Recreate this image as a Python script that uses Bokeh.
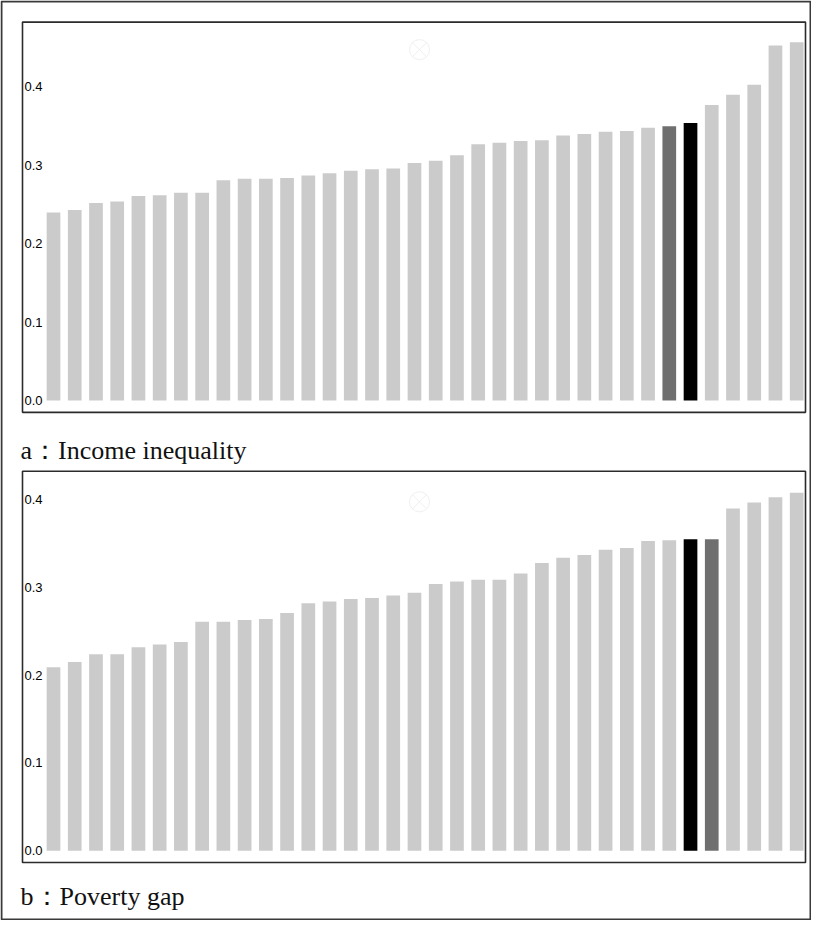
from bokeh.plotting import figure
from bokeh.models import Range1d
from bokeh.core.properties import value
from bokeh.embed import file_html
from bokeh.resources import INLINE

# ---------------- data ----------------
income_inequality = [0.240, 0.243, 0.252, 0.254, 0.261, 0.262, 0.265, 0.265, 0.281, 0.283,
                     0.283, 0.284, 0.287, 0.290, 0.293, 0.295, 0.296, 0.303, 0.306, 0.313,
                     0.327, 0.329, 0.331, 0.332, 0.338, 0.340, 0.343, 0.344, 0.348, 0.350,
                     0.354, 0.377, 0.390, 0.403, 0.453, 0.457]
poverty_gap = [0.209, 0.215, 0.224, 0.224, 0.232, 0.235, 0.238, 0.261, 0.261, 0.263,
               0.264, 0.271, 0.282, 0.284, 0.287, 0.288, 0.291, 0.294, 0.304, 0.307,
               0.309, 0.309, 0.316, 0.328, 0.334, 0.337, 0.343, 0.345, 0.353, 0.354,
               0.355, 0.355, 0.390, 0.397, 0.403, 0.408]
dark_a, black_a = 29, 30
black_b, dark_b = 30, 31
tick_values = [0.0, 0.1, 0.2, 0.3, 0.4]
tick_labels = ["0.0", "0.1", "0.2", "0.3", "0.4"]
caption_a = "a\uff1aIncome inequality"
caption_b = "b\uff1aPoverty gap"

# ---------------- layout (canvas pixels) ----------------
W, H = 811, 920
SY = H / 936.0                    # vertical compression vs. original 936px page
X0, PITCH = 53.0, 21.234          # centre of first bar, bar pitch
ZERO_A, SCALE_A = 407.0 * SY, 797.5 * SY
ZERO_B, SCALE_B = 865.0 * SY, 892.5 * SY
LIGHT, DARK, BLACK = "#cbcbcb", "#6f6f6f", "#000000"

p = figure(width=W, height=H, output_backend="svg", toolbar_location=None,
           x_range=Range1d(0, W), y_range=Range1d(H, 0),
           x_axis_location=None, y_axis_location=None, min_border=0)
p.grid.visible = False
p.outline_line_color = None
p.background_fill_color = "white"
p.border_fill_color = "white"

p.extra_x_ranges = {"idx": Range1d(-X0 / PITCH, (W - X0) / PITCH)}
p.extra_y_ranges = {
    "a": Range1d((ZERO_A - H) / SCALE_A, ZERO_A / SCALE_A),
    "b": Range1d((ZERO_B - H) / SCALE_B, ZERO_B / SCALE_B),
}

def colours(n, dark, black):
    c = [LIGHT] * n
    c[dark] = DARK
    c[black] = BLACK
    return c

idx_a = list(range(len(income_inequality)))
idx_b = list(range(len(poverty_gap)))

p.vbar(x=idx_a, top=income_inequality, bottom=0, width=0.645,
       fill_color=colours(len(idx_a), dark_a, black_a), line_color=None,
       x_range_name="idx", y_range_name="a")
p.vbar(x=idx_b, top=poverty_gap, bottom=0, width=0.645,
       fill_color=colours(len(idx_b), dark_b, black_b), line_color=None,
       x_range_name="idx", y_range_name="b")

# panel frames
p.quad(left=[22, 22], right=[805, 805],
       top=[22 * SY, 479 * SY], bottom=[419 * SY, 877 * SY],
       fill_color=None, line_color="#2b2b2b", line_width=1.6)
# outer border
p.quad(left=[1], right=[810], top=[1], bottom=[H - 1],
       fill_color=None, line_color="#3a3a3a", line_width=2)

# faint watermark marks
p.scatter(x=[419, 419], y=[50 * SY, 510 * SY], marker="circle_x", size=20,
          fill_color=None, line_color="#f0f0f0", line_width=1)

# tick labels inside the frames
for rname in ("a", "b"):
    p.text(x=[24] * len(tick_values), y=tick_values, text=tick_labels,
           y_range_name=rname, text_baseline="alphabetic", text_align="left",
           text_font=value("Liberation Sans"), text_font_size="13px",
           text_color="#000000")

# captions
p.text(x=[20, 20], y=[458 * SY, 912 * SY], text=[caption_a, caption_b],
       text_baseline="alphabetic", text_align="left",
       text_font=value("Liberation Serif"), text_font_size="26px",
       text_color="#111111")

open("out.html", "w").write(file_html(p, INLINE))
